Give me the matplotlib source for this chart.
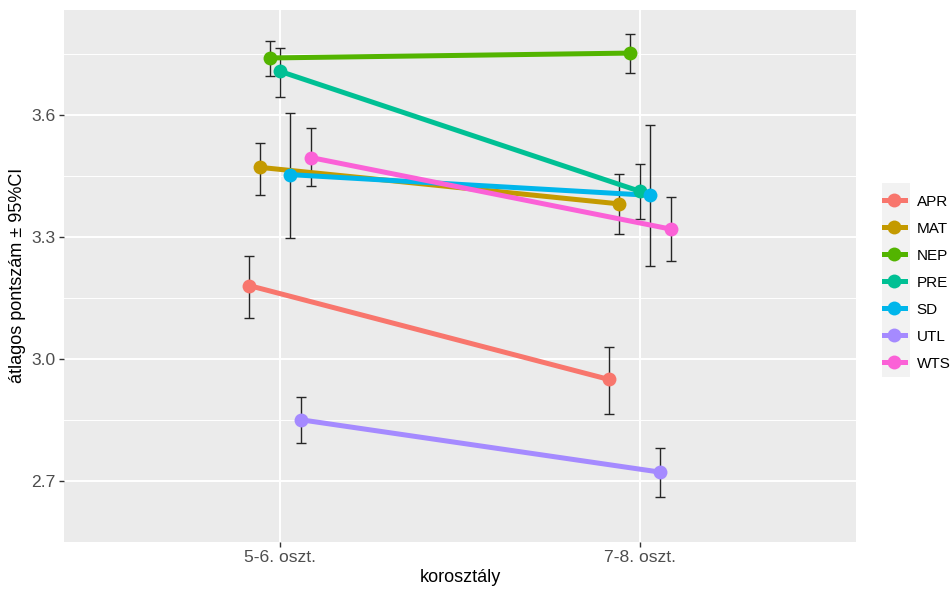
import matplotlib
matplotlib.use("Agg")
import matplotlib.pyplot as plt
from matplotlib.lines import Line2D
from matplotlib.patches import Rectangle
import numpy as np

plt.rcParams['font.family'] = ['Liberation Sans', 'DejaVu Sans']

# data
age_groups = ["5-6. oszt.", "7-8. oszt."]
scales = ["APR", "MAT", "NEP", "PRE", "SD", "UTL", "WTS"]
colors = ["#F8766D", "#C49A00", "#53B400", "#00C094", "#00B6EB", "#A58AFF", "#FB61D7"]

mean_56 = [3.180, 3.471, 3.740, 3.707, 3.453, 2.850, 3.495]
low_56 = [3.101, 3.404, 3.696, 3.645, 3.298, 2.793, 3.424]
high_56 = [3.252, 3.530, 3.781, 3.764, 3.605, 2.905, 3.568]

mean_78 = [2.949, 3.381, 3.752, 3.412, 3.402, 2.721, 3.319]
low_78 = [2.865, 3.306, 3.703, 3.343, 3.229, 2.659, 3.240]
high_78 = [3.030, 3.454, 3.799, 3.479, 3.574, 2.781, 3.397]

fig = plt.figure(figsize=(9.51, 5.92), dpi=100)
ax = fig.add_axes([0.0676, 0.0850, 0.8322, 0.8981])
ax.set_facecolor("#EBEBEB")

x = np.arange(1, len(age_groups) + 1)
dodge = 0.2
n = len(scales)

for i, (name, col) in enumerate(zip(scales, colors)):
    xs = x + (i - (n - 1) / 2) * dodge / n
    means = np.array([mean_56[i], mean_78[i]])
    lows = np.array([low_56[i], low_78[i]])
    highs = np.array([high_56[i], high_78[i]])
    ax.errorbar(xs, means, yerr=[means - lows, highs - means], fmt="none",
                ecolor="#262626", elinewidth=1.0, capsize=3.4, capthick=1.0, zorder=3)

for i, (name, col) in enumerate(zip(scales, colors)):
    xs = x + (i - (n - 1) / 2) * dodge / n
    ax.plot(xs, [mean_56[i], mean_78[i]], color=col, lw=3.6, zorder=4,
            solid_capstyle="butt")

for i, (name, col) in enumerate(zip(scales, colors)):
    xs = x + (i - (n - 1) / 2) * dodge / n
    ax.plot(xs, [mean_56[i], mean_78[i]], "o", color=col, ms=10, mec="none", zorder=5)

ax.set_xlim(0.4, 2.6)
ax.set_ylim(2.604, 3.858)
ax.set_xticks(x)
ax.set_xticklabels(age_groups)
ax.set_yticks([2.7, 3.0, 3.3, 3.6])
ax.set_yticks([2.55, 2.85, 3.15, 3.45, 3.75], minor=True)
ax.grid(which="major", color="white", lw=1.4)
ax.grid(which="minor", axis="y", color="white", lw=0.7)
ax.set_axisbelow(True)
for s in ax.spines.values():
    s.set_visible(False)
ax.tick_params(axis="both", which="major", length=3.5, width=1.0, color="#333333",
               labelcolor="#4D4D4D", labelsize=12.6, pad=2.5)
ax.tick_params(axis="y", which="minor", length=0)
ax.set_xlabel("korosztály", fontsize=13, labelpad=3)
ax.set_ylabel("átlagos pontszám ± 95%CI", fontsize=13, labelpad=4)

# legend (grey key background behind the handles)
handles = [Line2D([], [], color=c, lw=3.6, marker="o", ms=10, mec="none") for c in colors]
fig.patches.append(Rectangle((882 / 951, 1 - 377 / 592), 28 / 951, 194 / 592,
                             transform=fig.transFigure, facecolor="#F2F2F2",
                             edgecolor="none", zorder=-1))
leg = ax.legend(handles, scales, loc="center left", bbox_to_anchor=(884 / 951, 1 - 282.5 / 592),
                bbox_transform=fig.transFigure, frameon=False, fontsize=11,
                handlelength=1.35, handleheight=1.0, handletextpad=0.8,
                labelspacing=0.78, borderpad=0, borderaxespad=0, numpoints=1)

fig.savefig("out.png", dpi=100)
